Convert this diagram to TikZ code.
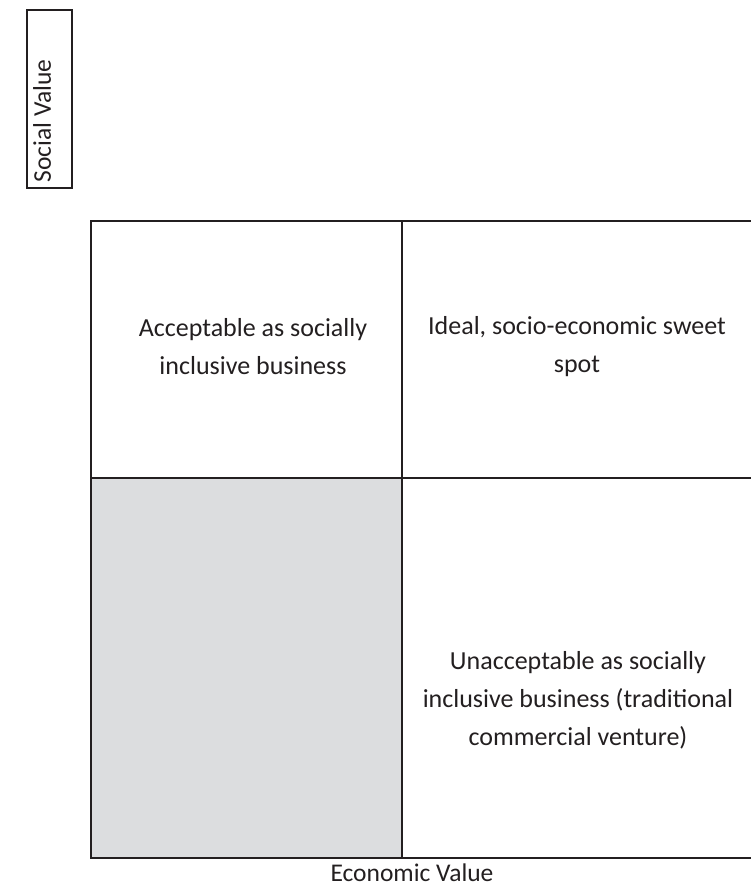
\documentclass[tikz,border=0pt]{standalone}
\usepackage{fontspec}
\setmainfont{Carlito}
\definecolor{ink}{HTML}{231F20}
\definecolor{cellgray}{HTML}{DCDDDF}
\begin{document}
\begin{tikzpicture}[x=1pt,y=-1pt,
  frame/.style={draw=ink, line width=2.2pt},
  lbl/.style={text=ink, font=\fontsize{25.5}{30}\selectfont, inner sep=0pt},
  celltext/.style={text=ink, font=\fontsize{26}{38}\selectfont, align=center}]
\useasboundingbox (0,0) rectangle (751,888);
% Social value box
\node[frame, minimum width=45pt, minimum height=178pt, inner sep=0pt] (svbox) at (49.5,99) {};
\node[lbl, rotate=90] (sv) at (42,121) {Social Value};
% grid corners
\coordinate (tl) at (91,221);
\coordinate (tm) at (402,221);
\coordinate (tr) at (751,221);
\coordinate (ml) at (91,478);
\coordinate (mm) at (402,478);
\coordinate (mr) at (751,478);
\coordinate (bl) at (91,858);
\coordinate (bm) at (402,858);
\coordinate (br) at (751,858);
\fill[cellgray] (ml) rectangle (bm);
\draw[frame] (tr) -- (tl) -- (bl) -- (br);
\draw[frame] (tm) -- (bm);
\draw[frame] (ml) -- (mr);
% texts
\node[celltext] (q1) at (253,347) {Acceptable as socially\\inclusive business};
\node[celltext] (q2) at (577,347) {Ideal, socio-economic sweet\\spot};
\node[celltext] (q4) at (578,700) {Unacceptable as socially\\inclusive business (traditional\\commercial venture)};
\node[lbl] (ev) at (412,873) {Economic Value};
\end{tikzpicture}
\end{document}
